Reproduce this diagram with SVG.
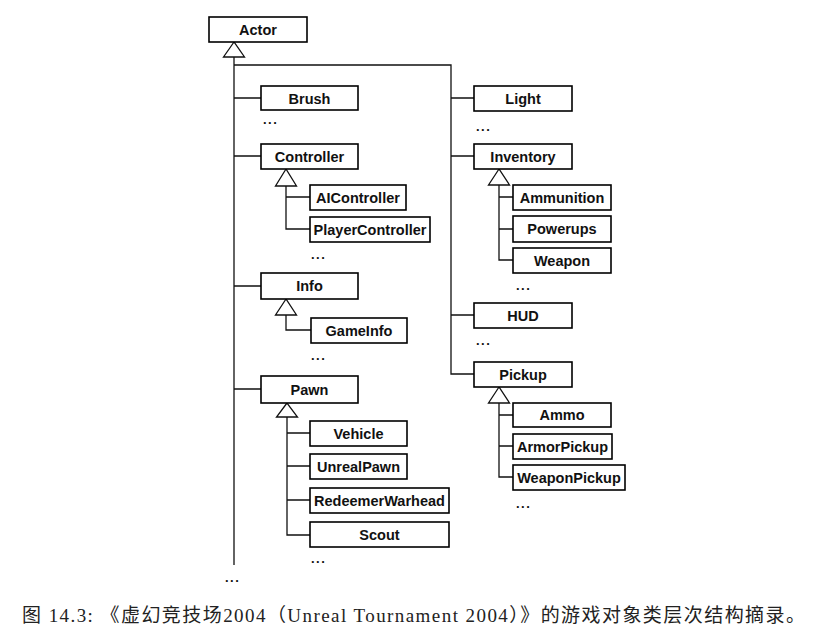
<svg xmlns="http://www.w3.org/2000/svg" width="820" height="639" viewBox="0 0 820 639">
<style>
.b{fill:#fff;stroke:#000;stroke-width:1.6}
.t{font-family:"Liberation Sans",Arial,sans-serif;font-weight:bold;font-size:14.5px;text-anchor:middle;fill:#111}
.d{font-family:"Liberation Sans",Arial,sans-serif;font-weight:bold;font-size:13px;letter-spacing:1.5px;fill:#111}
.c{fill:none;stroke:#111;stroke-width:1.3}
.tri{fill:#fff;stroke:#111;stroke-width:1.3}
.cap{font-family:"Liberation Serif","Noto Sans CJK SC",serif;font-size:19px;fill:#222}
</style>
<rect width="820" height="639" fill="#fff"/>
<g id="connectors">
<path class="c" d="M234 57V565M234 65H451V374H474"/>
<path class="c" d="M234 98H261M234 156H261M234 286H261M234 389H261"/>
<path class="c" d="M451 98H474M451 156H474M451 315H474"/>
<path class="c" d="M286 186V229H310M286 197H310"/>
<path class="c" d="M286 315V330H311"/>
<path class="c" d="M287 417V535H310M287 433H310M287 466H310M287 500H310"/>
<path class="c" d="M499 185V260H513M499 197H513M499 229H513"/>
<path class="c" d="M499 403V477H513M499 415H513M499 446H513"/>
<polygon class="tri" points="234,42 223.5,57 244.5,57"/>
<polygon class="tri" points="286,169 275.5,186 296.5,186"/>
<polygon class="tri" points="286,299 275.5,315 296.5,315"/>
<polygon class="tri" points="287,403 276.5,417 297.5,417"/>
<polygon class="tri" points="499,169 488.5,185 509.5,185"/>
<polygon class="tri" points="499,387 488.5,403 509.5,403"/>
</g>
<g id="actor"><rect class="b" x="209" y="17" width="98" height="25"/><text class="t" x="258" y="35">Actor</text></g>
<g id="brush"><rect class="b" x="261" y="86" width="97" height="24"/><text class="t" x="309.5" y="103.5">Brush</text></g>
<g id="controller"><rect class="b" x="261" y="144" width="97" height="25"/><text class="t" x="309.5" y="161.5">Controller</text></g>
<g id="aicontroller"><rect class="b" x="310" y="185" width="96" height="25"/><text class="t" x="358" y="202.5">AIController</text></g>
<g id="playercontroller"><rect class="b" x="310" y="217" width="120" height="25"/><text class="t" x="370" y="234.5">PlayerController</text></g>
<g id="info"><rect class="b" x="261" y="273" width="97" height="26"/><text class="t" x="309.5" y="291">Info</text></g>
<g id="gameinfo"><rect class="b" x="311" y="318" width="96" height="25"/><text class="t" x="359" y="335.5">GameInfo</text></g>
<g id="pawn"><rect class="b" x="261" y="376" width="97" height="27"/><text class="t" x="309.5" y="394.5">Pawn</text></g>
<g id="vehicle"><rect class="b" x="310" y="421" width="97" height="25"/><text class="t" x="358.5" y="438.5">Vehicle</text></g>
<g id="unrealpawn"><rect class="b" x="310" y="454" width="97" height="25"/><text class="t" x="358.5" y="471.5">UnrealPawn</text></g>
<g id="redeemerwarhead"><rect class="b" x="310" y="488" width="139" height="25"/><text class="t" x="379.5" y="505.5">RedeemerWarhead</text></g>
<g id="scout"><rect class="b" x="310" y="522" width="139" height="25"/><text class="t" x="379.5" y="539.5">Scout</text></g>
<g id="light"><rect class="b" x="474" y="86" width="98" height="25"/><text class="t" x="523" y="103.5">Light</text></g>
<g id="inventory"><rect class="b" x="474" y="144" width="98" height="25"/><text class="t" x="523" y="161.5">Inventory</text></g>
<g id="ammunition"><rect class="b" x="513" y="185" width="98" height="25"/><text class="t" x="562" y="202.5">Ammunition</text></g>
<g id="powerups"><rect class="b" x="513" y="216" width="98" height="26"/><text class="t" x="562" y="234">Powerups</text></g>
<g id="weapon"><rect class="b" x="513" y="248" width="98" height="25"/><text class="t" x="562" y="265.5">Weapon</text></g>
<g id="hud"><rect class="b" x="474" y="303" width="98" height="25"/><text class="t" x="523" y="320.5">HUD</text></g>
<g id="pickup"><rect class="b" x="474" y="362" width="98" height="25"/><text class="t" x="523" y="379.5">Pickup</text></g>
<g id="ammo"><rect class="b" x="513" y="403" width="98" height="24"/><text class="t" x="562" y="420">Ammo</text></g>
<g id="armorpickup"><rect class="b" x="513" y="434" width="99" height="25"/><text class="t" x="562.5" y="451.5">ArmorPickup</text></g>
<g id="weaponpickup"><rect class="b" x="513" y="465" width="112" height="25"/><text class="t" x="569" y="482.5">WeaponPickup</text></g>
<g id="ellipses">
<text class="d" x="263" y="124">...</text>
<text class="d" x="476" y="131">...</text>
<text class="d" x="311" y="259">...</text>
<text class="d" x="311" y="360">...</text>
<text class="d" x="516" y="290">...</text>
<text class="d" x="476" y="345">...</text>
<text class="d" x="311" y="563">...</text>
<text class="d" x="225" y="582">...</text>
<text class="d" x="516" y="508">...</text>
</g>
<text class="cap" x="22" y="622" textLength="783" lengthAdjust="spacing">图 14.3: 《虚幻竞技场2004（Unreal Tournament 2004）》的游戏对象类层次结构摘录。</text>
</svg>
